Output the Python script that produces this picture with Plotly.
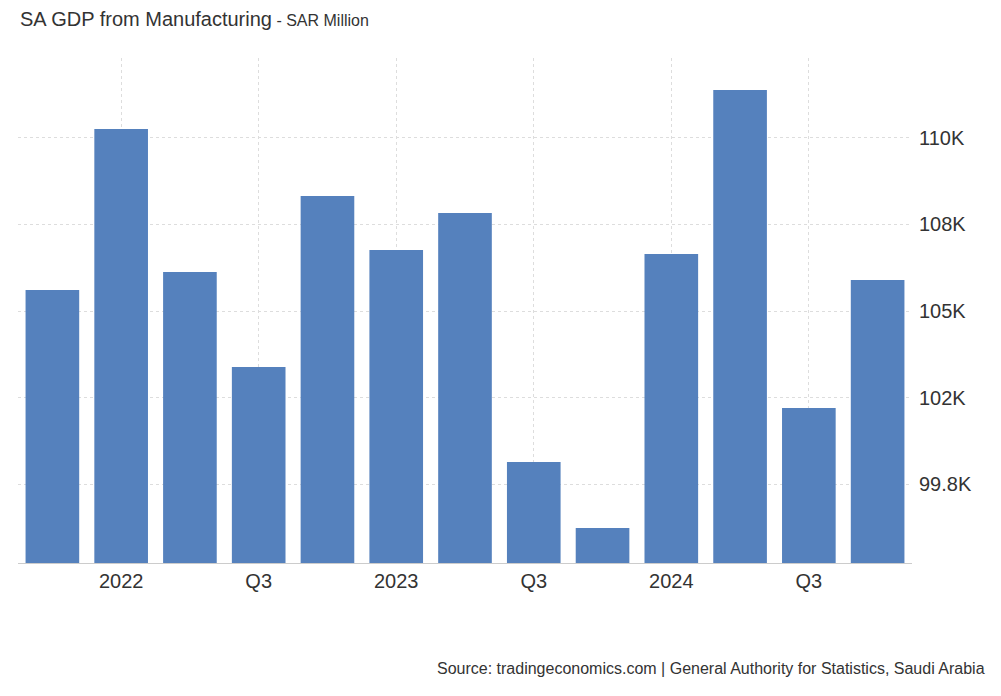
import plotly.graph_objects as go

quarters = ["2021Q4","2022Q1","2022Q2","2022Q3","2022Q4","2023Q1","2023Q2","2023Q3","2023Q4","2024Q1","2024Q2","2024Q3","2024Q4"]
values = [105631,110470,106172,103317,108456,106833,107945,100461,98478,106713,111642,102084,105932]
xtick_vals = ["2022Q1","2022Q3","2023Q1","2023Q3","2024Q1","2024Q3"]
xtick_text = ["2022","Q3","2023","Q3","2024","Q3"]
ytick_vals = [99800,102400,105000,107600,110200]
ytick_text = ["99.8K","102K","105K","108K","110K"]

fig = go.Figure(go.Bar(x=quarters, y=values, marker_color="#5581bd", marker_line_width=0))
fig.update_layout(
    width=993, height=688, plot_bgcolor="white", paper_bgcolor="white",
    margin=dict(l=10, r=89, t=50, b=133), bargap=0.22, showlegend=False,
    font=dict(family="Liberation Sans, Arial", color="#333"),
    annotations=[
        dict(text="SA GDP from Manufacturing<span style='font-size:16px'> - SAR Million</span>",
             x=0, y=1, xref="paper", yref="paper", xanchor="left", yanchor="top",
             showarrow=False, font=dict(size=20, color="#333"), xshift=0, yshift=52),
        dict(text="Source: tradingeconomics.com | General Authority for Statistics, Saudi Arabia",
             x=1, y=0, xref="paper", yref="paper", xanchor="right", yanchor="top",
             showarrow=False, font=dict(size=16, color="#333"), xshift=75, yshift=-95),
    ],
)
fig.update_xaxes(type="category", tickvals=xtick_vals, ticktext=xtick_text,
                 showgrid=True, gridcolor="#dddddd", griddash="dot",
                 showline=True, linecolor="#cccccc", ticks="", tickfont=dict(size=20, color="#333"))
fig.update_yaxes(side="right", range=[97426,112604], tickvals=ytick_vals, ticktext=ytick_text,
                 showgrid=True, gridcolor="#dddddd", griddash="dot", zeroline=False,
                 ticklabelstandoff=6, tickfont=dict(size=20, color="#333"))
fig.write_html("out.html")
